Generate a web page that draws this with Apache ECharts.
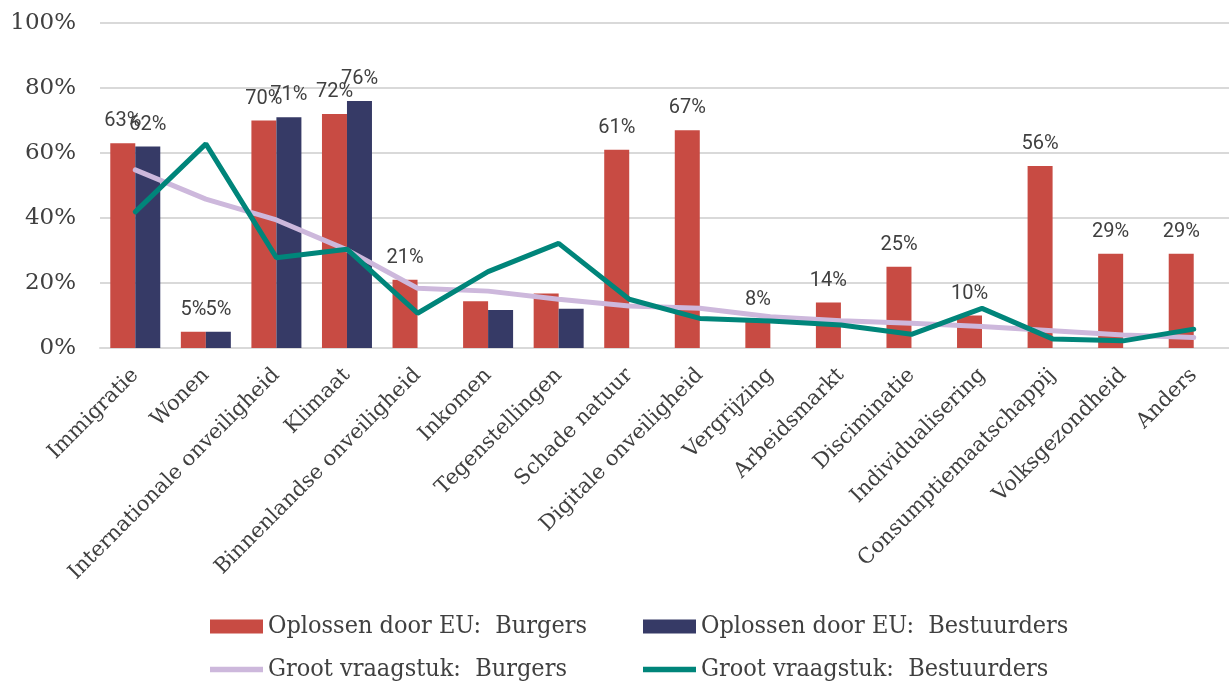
<!DOCTYPE html>
<html><head><meta charset="utf-8">
<script src="https://cdn.jsdelivr.net/npm/echarts@6/dist/echarts.min.js"></script>
<style>html,body{margin:0;padding:0;background:#fff}#c{width:1229px;height:683px}</style>
</head><body><div id="c"></div>
<script>
const categories = ["Immigratie","Wonen","Internationale onveiligheid","Klimaat","Binnenlandse onveiligheid","Inkomen","Tegenstellingen","Schade natuur","Digitale onveiligheid","Vergrijzing","Arbeidsmarkt","Disciminatie","Individualisering","Consumptiemaatschappij","Volksgezondheid","Anders"];
const euBurgers = [63,5,70,72,21,14.4,16.8,61,67,8,14,25,10,56,29,29];
const euBestuurders = [62,5,71,76,null,11.7,12.1,null,null,null,null,null,null,null,null,null];
const grootBurgers = [54.8,45.8,39.4,30.2,18.4,17.5,15,12.9,12.2,9.6,8.4,7.6,6.6,5.3,4,3.2];
const grootBestuurders = [41.9,62.8,27.8,30.4,10.7,23.5,32.2,15,9.1,8.3,7.1,4.2,12.2,2.8,2.2,5.8];
const yTicks = [0,20,40,60,80,100];
const unlabeled = ["Inkomen","Tegenstellingen"];

const names = ["Oplossen door EU:  Burgers","Oplossen door EU:  Bestuurders","Groot vraagstuk:  Burgers","Groot vraagstuk:  Bestuurders"];
const colors = ["#C84B43","#363A66","#CDB8DC","#00857A"];
const txt = "#404040";
const legendText = {fontFamily:"'DejaVu Serif Condensed','DejaVu Serif',serif",fontSize:25,color:txt};

function barData(arr){
  return arr.map((v,i)=>({value:v,label:{show: v!=null && !unlabeled.includes(categories[i])}}));
}
const lineIcon = 'path://M0,0 L10,0 L10,1 L0,1 Z';

const chart = echarts.init(document.getElementById('c'));
chart.setOption({
  animation:false,
  color:colors,
  grid:{left:100,right:0,top:23,bottom:335,containLabel:false},
  legend:[
    {data:[{name:names[0],icon:'rect'}],left:205,top:609,itemWidth:53,itemHeight:14,itemGap:0,textStyle:legendText},
    {data:[{name:names[1],icon:'rect'}],left:638,top:609,itemWidth:53,itemHeight:14,itemGap:0,textStyle:legendText},
    {data:[{name:names[2],icon:lineIcon}],left:205,top:652,itemWidth:53,itemHeight:6,itemGap:0,textStyle:legendText},
    {data:[{name:names[3],icon:lineIcon}],left:638,top:652,itemWidth:53,itemHeight:6,itemGap:0,textStyle:legendText}
  ],
  xAxis:{type:'category',data:categories,
    axisTick:{show:false},
    axisLine:{lineStyle:{color:'#d9d9d9',width:2}},
    axisLabel:{rotate:45,interval:0,margin:24,color:txt,fontSize:21,fontFamily:"'DejaVu Serif',serif"}},
  yAxis:{type:'value',min:yTicks[0],max:yTicks[yTicks.length-1],interval:20,
    axisLine:{show:false},axisTick:{show:false},
    splitLine:{lineStyle:{color:'#d9d9d9',width:2}},
    axisLabel:{formatter:'{value}%',margin:24,color:txt,fontSize:23,fontFamily:"'DejaVu Serif',serif"}},
  series:[
    {name:names[0],type:'bar',data:barData(euBurgers),barWidth:25,barGap:'0%',
      itemStyle:{color:colors[0]},
      label:{position:'top',distance:12,color:txt,fontSize:20,fontFamily:'Roboto',formatter:p=>Math.round(p.value)+'%'}},
    {name:names[1],type:'bar',data:barData(euBestuurders),barWidth:25,barGap:'0%',
      itemStyle:{color:colors[1]},
      label:{position:'top',distance:12,color:txt,fontSize:20,fontFamily:'Roboto',formatter:p=>Math.round(p.value)+'%'}},
    {name:names[2],type:'line',data:grootBurgers,showSymbol:false,symbol:'none',
      lineStyle:{color:colors[2],width:5,cap:'round'},itemStyle:{color:colors[2]}},
    {name:names[3],type:'line',data:grootBestuurders,showSymbol:false,symbol:'none',
      lineStyle:{color:colors[3],width:5,cap:'round'},itemStyle:{color:colors[3]}}
  ]
});
</script></body></html>
